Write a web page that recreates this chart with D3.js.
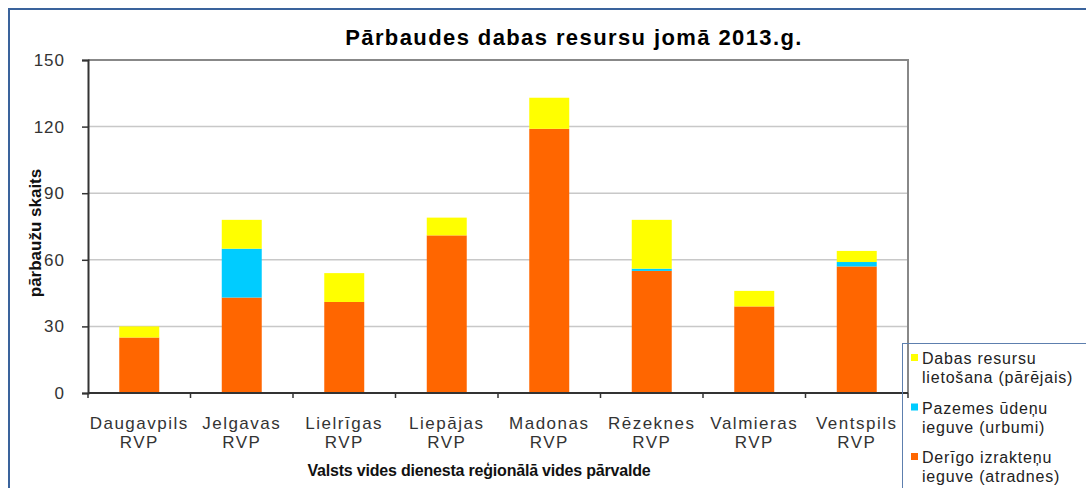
<!DOCTYPE html>
<html>
<head>
<meta charset="utf-8">
<script src="https://cdn.jsdelivr.net/npm/d3@7"></script>
<style>
  body { margin: 0; background: #fff; }
  svg { display: block; font-family: "Liberation Sans", Arial, sans-serif; }
</style>
</head>
<body>
<div id="chart"></div>
<script>
// data
const regions = ["Daugavpils", "Jelgavas", "Lielrīgas", "Liepājas", "Madonas", "Rēzeknes", "Valmieras", "Ventspils"];
const izrakteni = [25, 43, 41, 71, 119, 55, 39, 57];   // Derīgo izrakteņu ieguve
const urbumi = [0, 22, 0, 0, 0, 1, 0, 2];               // Pazemes ūdeņu ieguve
const parejais = [5, 13, 13, 8, 14, 22, 7, 5];          // Dabas resursu lietošana
const yTicks = [0, 30, 60, 90, 120, 150];

const seriesInfo = [
  { key: "izrakteni", color: "#ff6600", label: ["Derīgo izrakteņu", "ieguve (atradnes)"] },
  { key: "urbumi", color: "#00ccff", label: ["Pazemes ūdeņu", "ieguve (urbumi)"] },
  { key: "parejais", color: "#ffff00", label: ["Dabas resursu", "lietošana  (pārējais)"] }
];

const rows = regions.map((r, i) => ({ region: r, izrakteni: izrakteni[i], urbumi: urbumi[i], parejais: parejais[i] }));

const W = 1086, H = 488;
const plot = { left: 88, right: 908, top: 60, bottom: 393 };

const svg = d3.select("#chart").append("svg")
  .attr("width", W)
  .attr("height", H);

svg.append("rect").attr("width", W).attr("height", H).attr("fill", "#fff");

// outer chart border
svg.append("rect")
  .attr("x", 9).attr("y", 9)
  .attr("width", W + 20).attr("height", H + 20)
  .attr("fill", "none")
  .attr("stroke", "#3a639c")
  .attr("stroke-width", 2);

const x = d3.scaleBand().domain(regions).range([plot.left, plot.right]).padding(0);
const y = d3.scaleLinear().domain([0, 150]).range([plot.bottom, plot.top]);

// gridlines
svg.append("g")
  .selectAll("line")
  .data(yTicks.filter(t => t > 0 && t < 150))
  .enter().append("line")
    .attr("x1", plot.left).attr("x2", plot.right)
    .attr("y1", d => y(d)).attr("y2", d => y(d))
    .attr("stroke", "#c8c8c8")
    .attr("stroke-width", 1.5);

// plot area border (top + right)
svg.append("path")
  .attr("d", `M${plot.left},${y(150)}H${plot.right}V${plot.bottom}`)
  .attr("fill", "none")
  .attr("stroke", "#888")
  .attr("stroke-width", 2);

// stacked bars
const stack = d3.stack().keys(seriesInfo.map(s => s.key));
const stacked = stack(rows);
const barW = x.bandwidth() * 0.39;

svg.append("g")
  .selectAll("g")
  .data(stacked)
  .enter().append("g")
    .attr("fill", (d, i) => seriesInfo[i].color)
  .selectAll("rect")
  .data(d => d.filter(p => p[1] - p[0] > 0))
  .enter().append("rect")
    .attr("x", d => x(d.data.region) + (x.bandwidth() - barW) / 2)
    .attr("y", d => y(d[1]))
    .attr("width", barW)
    .attr("height", d => y(d[0]) - y(d[1]));

// y axis
const yAxis = svg.append("g")
  .attr("transform", `translate(${plot.left},0)`)
  .call(d3.axisLeft(y).tickValues(yTicks).tickSize(6).tickPadding(17));
yAxis.select(".domain").attr("stroke", "#333").attr("stroke-width", 2);
yAxis.selectAll(".tick line").attr("stroke", "#333").attr("stroke-width", 1.5);
yAxis.selectAll("text")
  .attr("fill", "#333")
  .style("font-size", "17px")
  .style("letter-spacing", "1px");

// x axis line and ticks at category boundaries
const bounds = regions.map(r => x(r)).concat([plot.right]);
svg.append("line")
  .attr("x1", plot.left).attr("x2", plot.right)
  .attr("y1", plot.bottom).attr("y2", plot.bottom)
  .attr("stroke", "#333").attr("stroke-width", 2);
svg.append("g")
  .selectAll("line")
  .data(bounds)
  .enter().append("line")
    .attr("x1", d => d).attr("x2", d => d)
    .attr("y1", plot.bottom).attr("y2", plot.bottom + 5)
    .attr("stroke", "#333").attr("stroke-width", 1.5);

// category labels
const cat = svg.append("g")
  .selectAll("text")
  .data(regions)
  .enter().append("text")
    .attr("text-anchor", "middle")
    .attr("fill", "#333")
    .style("font-size", "17px")
    .style("letter-spacing", "1.5px");
cat.append("tspan")
  .attr("x", d => x(d) + x.bandwidth() / 2)
  .attr("y", 429)
  .text(d => d);
cat.append("tspan")
  .attr("x", d => x(d) + x.bandwidth() / 2)
  .attr("y", 448)
  .text("RVP");

// title
svg.append("text")
  .attr("x", 574).attr("y", 45)
  .attr("text-anchor", "middle")
  .style("font-size", "22px")
  .style("font-weight", "bold")
  .style("letter-spacing", "1.4px")
  .attr("fill", "#000")
  .text("Pārbaudes dabas resursu jomā 2013.g.");

// axis titles
svg.append("text")
  .attr("x", 479).attr("y", 476)
  .attr("text-anchor", "middle")
  .style("font-size", "16px")
  .style("font-weight", "bold")
  .style("letter-spacing", "-0.2px")
  .attr("fill", "#111")
  .text("Valsts vides dienesta reģionālā vides pārvalde");

svg.append("text")
  .attr("transform", "translate(41,233) rotate(-90)")
  .attr("text-anchor", "middle")
  .style("font-size", "17px")
  .style("font-weight", "bold")
  .attr("fill", "#111")
  .text("pārbaužu skaits");

// legend
const legend = svg.append("g");
legend.append("rect")
  .attr("x", 902.5).attr("y", 343.5)
  .attr("width", 220).attr("height", 200)
  .attr("fill", "none")
  .attr("stroke", "#5d7fae")
  .attr("stroke-width", 1);

const legendOrder = seriesInfo.slice().reverse();
const item = legend.selectAll("g.item")
  .data(legendOrder)
  .enter().append("g")
    .attr("class", "item")
    .attr("transform", (d, i) => `translate(0,${i * 49.5})`);
item.append("rect")
  .attr("x", 911).attr("y", 354)
  .attr("width", 7).attr("height", 7)
  .attr("fill", d => d.color);
const lt = item.append("text")
  .attr("fill", "#222")
  .style("font-size", "16px")
  .style("letter-spacing", "0.8px");
lt.append("tspan").attr("x", 922).attr("y", 364).text(d => d.label[0]);
lt.append("tspan").attr("x", 922).attr("y", 383).text(d => d.label[1]);
</script>
</body>
</html>
